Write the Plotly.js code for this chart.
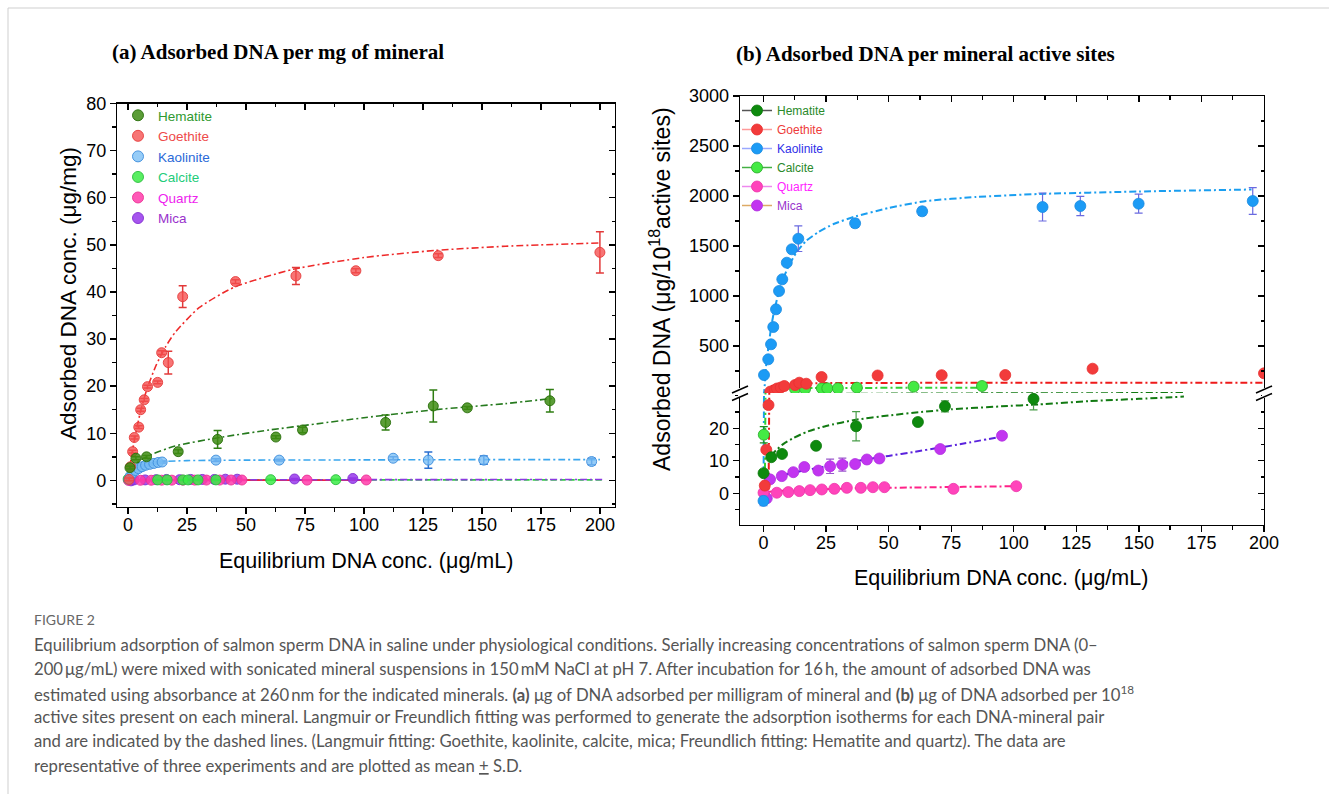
<!DOCTYPE html>
<html><head><meta charset="utf-8">
<script src="https://cdn.plot.ly/plotly-3.0.1.min.js"></script>
<style>html,body{margin:0;padding:0;background:#fff;} #chart{width:1329px;height:794px;}</style>
</head><body><div id="chart"></div>
<script>
// ---------------- Panel (a): adsorbed DNA per mg of mineral ----------------
const seriesNames = ['Hematite', 'Goethite', 'Kaolinite', 'Calcite', 'Quartz', 'Mica'];
const xTicksA = [0, 25, 50, 75, 100, 125, 150, 175, 200];
const yTicksA = [0, 10, 20, 30, 40, 50, 60, 70, 80];

const aHemX = [0.85, 3.4, 7.9, 21.3, 38.0, 62.7, 74.0, 109.2, 129.4, 143.8, 178.8];
const aHemY = [2.7, 4.7, 5.0, 6.1, 8.7, 9.2, 10.7, 12.3, 15.8, 15.4, 16.9];
const aHemE = [0.3, 0.3, 0.3, 0.4, 1.9, 0.3, 0.6, 1.6, 3.4, 0.3, 2.4];

const aGoeX = [0.5, 1.1, 2.0, 2.7, 4.6, 5.4, 6.9, 8.3, 12.6, 14.3, 17.1, 23.2, 45.6, 71.2, 96.6, 131.5, 200.0];
const aGoeY = [0.2, 2.9, 6.1, 9.1, 11.3, 15.0, 17.1, 19.9, 20.8, 27.1, 25.0, 39.0, 42.2, 43.4, 44.5, 47.7, 48.4];
const aGoeE = [0.3, 0.3, 0.3, 0.3, 0.3, 0.3, 0.3, 0.3, 0.3, 0.4, 2.4, 2.3, 0.4, 1.8, 0.4, 0.4, 4.4];

const aKaoX = [0.4, 1.0, 2.0, 3.2, 4.5, 6.0, 7.5, 9.2, 11.0, 12.8, 14.5, 37.3, 64.1, 112.4, 127.3, 150.8, 196.5];
const aKaoY = [0.2, 0.9, 1.6, 2.1, 2.5, 2.9, 3.2, 3.4, 3.6, 3.8, 3.9, 4.3, 4.3, 4.7, 4.3, 4.3, 4.0];
const aKaoE = [0.2, 0.2, 0.2, 0.2, 0.2, 0.2, 0.2, 0.2, 0.2, 0.2, 0.2, 0.3, 0.2, 0.3, 1.7, 0.9, 0.7];

const aCalX = [0.1, 12.6, 16.6, 23.3, 25.5, 29.7, 37.3, 60.5, 88.1];
const aCalY = [0.3, 0.1, 0.1, 0.1, 0.1, 0.1, 0.1, 0.15, 0.15];
const aCalE = [0.2, 0.1, 0.1, 0.1, 0.1, 0.1, 0.1, 0.1, 0.1];

const aQuaX = [0.2, 5.3, 9.9, 14.3, 18.6, 23.3, 28.3, 33.3, 38.9, 43.7, 48.3, 75.9, 101.0];
const aQuaY = [0.0, 0.02, 0.03, 0.04, 0.05, 0.05, 0.06, 0.07, 0.07, 0.08, 0.08, 0.06, 0.09];
const aQuaE = [0.1, 0.1, 0.1, 0.1, 0.1, 0.1, 0.1, 0.1, 0.1, 0.1, 0.1, 0.1, 0.1];

const aMicX = [1.3, 2.6, 7.3, 11.9, 16.3, 21.9, 26.6, 31.5, 36.6, 41.3, 46.3, 70.6, 95.3];
const aMicY = [-0.1, 0.1, 0.1, 0.15, 0.2, 0.15, 0.2, 0.2, 0.2, 0.25, 0.25, 0.3, 0.4];
const aMicE = [0.1, 0.1, 0.1, 0.1, 0.1, 0.1, 0.1, 0.1, 0.1, 0.1, 0.1, 0.1, 0.1];

// fitted isotherms
const aGoeFitX = [0.5, 2, 5, 8, 12, 16, 20, 30, 45, 70, 100, 130, 160, 200];
const aGoeFitY = [1.8, 6.6, 13.9, 19.3, 24.5, 28.4, 31.4, 36.6, 41.0, 44.8, 47.3, 48.8, 49.7, 50.4];
const aHemFitX = [1, 3, 6, 10, 20, 40, 60, 80, 100, 130, 160, 180];
const aHemFitY = [2.2, 3.4, 4.5, 5.5, 7.3, 9.2, 10.7, 12.0, 13.3, 15.0, 16.3, 17.4];
const aKaoFitX = [0.5, 2, 4, 7, 10, 15, 25, 50, 100, 150, 200];
const aKaoFitY = [0.6, 1.8, 2.7, 3.3, 3.7, 4.0, 4.2, 4.3, 4.35, 4.4, 4.4];
const aCalFitX = [0, 50, 100, 150, 202];
const aCalFitY = [0.1, 0.1, 0.1, 0.1, 0.1];
const aQuaFitX = [0.5, 10, 25, 50, 75, 101];
const aQuaFitY = [0.02, 0.03, 0.04, 0.05, 0.05, 0.06];
const aMicFitX = [1, 25, 50, 100, 150, 202];
const aMicFitY = [0.05, 0.1, 0.12, 0.15, 0.17, 0.19];

// ---------------- Panel (b): adsorbed DNA per 10^18 active sites ----------------
const xTicksB = [0, 25, 50, 75, 100, 125, 150, 175, 200];
const yTicksBLow = [0, 10, 20];
const yTicksBHigh = [500, 1000, 1500, 2000, 2500, 3000];

const bHemX = [0.0, 3.1, 7.4, 21.0, 37.0, 61.7, 72.5, 107.9];
const bHemY = [6.2, 11.1, 12.1, 14.6, 20.6, 21.9, 26.7, 29.0];
const bHemE = [0.4, 0.3, 0.3, 0.3, 4.5, 0.3, 1.7, 3.4];

const bGoeX = [0.5, 1.1, 2.0, 2.7, 4.6, 5.4, 6.9, 8.3, 12.6, 14.3, 17.1, 23.2, 45.6, 71.2, 96.6, 131.5, 200.0];
const bGoeY = [2.4, 13.4, 27.1, 44, 60, 75, 85, 100, 110, 133, 123, 190, 205, 208, 210, 273, 227];
const bGoeE = [0.3, 0.3, 0.3, 2, 2, 2, 2, 2, 2, 2, 2, 2, 2, 2, 2, 2, 2];

const bKaoX = [0.0, 0.2, 1.9, 3.0, 3.9, 5.0, 6.2, 7.5, 9.3, 11.3, 13.9, 36.6, 63.4, 111.5, 126.6, 149.9, 195.5];
const bKaoY = [-2.3, 210, 367, 517, 690, 867, 1050, 1167, 1333, 1467, 1573, 1727, 1847, 1890, 1900, 1923, 1950];
const bKaoE = [1.5, 15, 15, 15, 15, 15, 15, 15, 20, 30, 128, 40, 40, 140, 97, 95, 133];

const bCalX = [0.1, 12.6, 16.6, 23.3, 25.5, 29.7, 37.3, 60.0, 87.3];
const bCalY = [18.0, 70, 70, 77, 77, 77, 83, 93, 100];
const bCalE = [2.5, 3, 3, 3, 3, 3, 3, 3, 3];

const bQuaX = [0.0, 5.3, 9.9, 14.3, 18.6, 23.3, 28.3, 33.3, 38.9, 43.7, 48.3, 75.9, 101.0];
const bQuaY = [0.2, 0.2, 0.4, 0.7, 1.0, 1.2, 1.4, 1.7, 1.7, 1.9, 1.9, 1.4, 2.2];
const bQuaE = [0.3, 0.3, 0.3, 0.3, 0.3, 0.3, 0.3, 0.3, 0.3, 0.3, 0.3, 0.3, 0.3];

const bMicX = [1.3, 2.6, 7.3, 11.9, 16.3, 21.9, 26.6, 31.5, 36.6, 41.3, 46.3, 70.6, 95.3];
const bMicY = [-1.5, 4.3, 5.3, 6.5, 8.1, 7.0, 8.3, 8.8, 9.0, 10.4, 10.7, 13.6, 17.7];
const bMicE = [0.3, 0.3, 0.3, 0.3, 0.3, 0.3, 2.2, 2.0, 0.3, 0.3, 0.3, 0.3, 0.3];

const bHemFitX = [3, 5, 8, 12, 17, 25, 37, 50, 62, 75, 95, 110, 130, 150, 168];
const bHemFitY = [11.5, 13.2, 15.2, 17.0, 18.8, 20.7, 22.6, 23.9, 24.9, 25.8, 26.7, 27.3, 28.3, 29.0, 29.7];
const bGoeFitX = [2.0, 2.3, 2.6, 3, 4, 6, 10, 20, 50, 100, 200];
const bGoeFitY = [-2, 31, 70, 95, 110, 118, 124, 128, 131, 132, 133];
const bKaoFitX = [0, 0.3, 1, 2, 3, 4, 6, 8, 10, 13, 17, 22, 28, 36, 50, 65, 85, 110, 150, 195];
const bKaoFitY = [0, 50, 290, 500, 680, 820, 1030, 1180, 1300, 1430, 1550, 1640, 1720, 1790, 1880, 1950, 1990, 2020, 2045, 2065];
const bCalFitX = [0.5, 0.8, 1.2, 2, 4, 10, 20, 40, 60, 87];
const bCalFitY = [-2, 31, 50, 65, 75, 78, 80, 81, 82, 83];
const bQuaFitX = [0.5, 2, 5, 10, 20, 40, 60, 80, 101];
const bQuaFitY = [0.3, 0.5, 0.7, 0.9, 1.2, 1.6, 1.8, 2.0, 2.2];
const bMicFitX = [2, 10, 20, 30, 40, 50, 60, 70, 80, 95];
const bMicFitY = [3.8, 6.0, 7.6, 9.0, 10.3, 11.5, 12.7, 14.0, 15.3, 17.4];

// ---------------- helpers / styles ----------------
const W = 1329, H = 794;
const fx = p => p / W;
const fy = p => 1 - p / H;
const SANS = 'Liberation Sans, Arial, sans-serif';
const SERIF = 'Liberation Serif, Times New Roman, serif';
const DASHDOT = '7px,3px,2px,3px';
const BREAK = 31;

const styleA = {
  Hematite:  {fill: 'rgba(62,140,20,0.85)',  edge: 'rgba(40,110,10,0.9)',  err: '#2f7d12', fit: '#267a1e', dash: DASHDOT, text: '#2f9a2f'},
  Goethite:  {fill: 'rgba(245,78,78,0.78)',  edge: 'rgba(230,60,60,0.9)',  err: '#e23a3a', fit: '#ee2a2a', dash: DASHDOT, text: '#ee4a4a'},
  Kaolinite: {fill: 'rgba(120,190,245,0.78)', edge: 'rgba(60,140,220,0.9)', err: '#2a6fd0', fit: '#3aa6ee', dash: DASHDOT, text: '#2a6ad8'},
  Calcite:   {fill: 'rgba(60,235,70,0.85)',  edge: 'rgba(40,190,60,0.9)',  err: '#22aa44', fit: '#33cc44', dash: '6px,3px', text: '#22cc7a'},
  Quartz:    {fill: 'rgba(255,60,170,0.85)', edge: 'rgba(235,50,150,0.9)', err: '#e23396', fit: '#ee2244', dash: 'solid', text: '#ee22ee'},
  Mica:      {fill: 'rgba(150,55,235,0.85)', edge: 'rgba(130,45,210,0.9)', err: '#8833cc', fit: '#8a3ae0', dash: DASHDOT, text: '#9932cc'}
};
const styleB = {
  Hematite:  {fill: '#0e8a0e', edge: '#0b780b', err: '#4a9e4a', fit: '#127a12', leg: '#555555', text: '#2a8a2a'},
  Goethite:  {fill: '#f23b3b', edge: '#e83030', err: '#ff6a6a', fit: '#ee1a1a', leg: '#ff9a9a', text: '#ee3a3a'},
  Kaolinite: {fill: '#1c9bf5', edge: '#1a8ae0', err: '#6a6ae0', fit: '#1a9ef0', leg: '#9aa8ff', text: '#3030e8'},
  Calcite:   {fill: '#44ea44', edge: '#2aa82a', err: '#1f8f1f', fit: '#33d033', leg: '#44b044', text: '#2a8a2a'},
  Quartz:    {fill: '#ff44bb', edge: '#ee33aa', err: '#cc2288', fit: '#ff2288', leg: '#ee88ee', text: '#ff22ff'},
  Mica:      {fill: '#c235f0', edge: '#b02ee0', err: '#9955cc', fit: '#5a22dd', leg: '#ddaa66', text: '#9933cc'}
};

const dataA = {
  Hematite:  [aHemX, aHemY, aHemE, aHemFitX, aHemFitY],
  Goethite:  [aGoeX, aGoeY, aGoeE, aGoeFitX, aGoeFitY],
  Kaolinite: [aKaoX, aKaoY, aKaoE, aKaoFitX, aKaoFitY],
  Calcite:   [aCalX, aCalY, aCalE, aCalFitX, aCalFitY],
  Quartz:    [aQuaX, aQuaY, aQuaE, aQuaFitX, aQuaFitY],
  Mica:      [aMicX, aMicY, aMicE, aMicFitX, aMicFitY]
};
const dataB = {
  Hematite:  [bHemX, bHemY, bHemE, bHemFitX, bHemFitY],
  Goethite:  [bGoeX, bGoeY, bGoeE, bGoeFitX, bGoeFitY],
  Kaolinite: [bKaoX, bKaoY, bKaoE, bKaoFitX, bKaoFitY],
  Calcite:   [bCalX, bCalY, bCalE, bCalFitX, bCalFitY],
  Quartz:    [bQuaX, bQuaY, bQuaE, bQuaFitX, bQuaFitY],
  Mica:      [bMicX, bMicY, bMicE, bMicFitX, bMicFitY]
};

const traces = [];
// panel (a) fit lines
seriesNames.forEach(n => {
  const [ , , , fxv, fyv] = dataA[n];
  const s = styleA[n];
  traces.push({x: fxv, y: fyv, xaxis: 'x', yaxis: 'y', mode: 'lines', line: {color: s.fit, width: 1.6, dash: s.dash, shape: 'spline', smoothing: 0.6},
               showlegend: false, hoverinfo: 'skip'});
});
// panel (a) points (drawn in reverse so Hematite is on top)
seriesNames.slice().reverse().forEach(n => {
  const [xv, yv, ev] = dataA[n];
  const s = styleA[n];
  traces.push({x: xv, y: yv, xaxis: 'x', yaxis: 'y', mode: 'markers', name: n,
               marker: {size: 10, color: s.fill, line: {color: s.edge, width: 1}},
               error_y: {type: 'data', array: ev, visible: true, color: s.err, thickness: 1.5, width: 4},
               showlegend: false});
});
// legend (a) entries
seriesNames.forEach(n => {
  const s = styleA[n];
  traces.push({x: [null], y: [null], xaxis: 'x', yaxis: 'y', mode: 'markers', name: '<span style="color:' + s.text + '">' + n + '</span>',
               marker: {size: 11, color: s.fill, line: {color: s.edge, width: 1}}, showlegend: true, legend: 'legend', hoverinfo: 'skip'});
});

function pick(xv, yv, ev, keep) {
  const o = {x: [], y: [], e: []};
  yv.forEach((v, i) => { if (keep(v)) { o.x.push(xv[i]); o.y.push(v); o.e.push(ev[i]); } });
  return o;
}
// panel (b) fits on both segments of the broken axis
seriesNames.forEach(n => {
  const [ , , , fxv, fyv] = dataB[n];
  const s = styleB[n];
  ['y2', 'y4'].forEach(ya => {
    traces.push({x: fxv, y: fyv, xaxis: 'x2', yaxis: ya, mode: 'lines', line: {color: s.fit, width: 2, dash: DASHDOT, shape: 'spline', smoothing: 0.5},
                 showlegend: false, hoverinfo: 'skip'});
  });
});
// panel (b) points split across the broken axis
seriesNames.slice().reverse().forEach(n => {
  const [xv, yv, ev] = dataB[n];
  const s = styleB[n];
  const lo = pick(xv, yv, ev, v => v < BREAK);
  const hi = pick(xv, yv, ev, v => v >= BREAK);
  [[lo, 'y2'], [hi, 'y4']].forEach(([d, ya]) => {
    if (!d.x.length) return;
    traces.push({x: d.x, y: d.y, xaxis: 'x2', yaxis: ya, mode: 'markers', name: n,
                 marker: {size: 11, color: s.fill, line: {color: s.edge, width: 0.8}},
                 error_y: {type: 'data', array: d.e, visible: true, color: s.err, thickness: 1.2, width: 4},
                 showlegend: false});
  });
});
// legend (b) entries
seriesNames.forEach(n => {
  const s = styleB[n];
  traces.push({x: [null], y: [null], xaxis: 'x2', yaxis: 'y2', mode: 'lines+markers', name: '<span style="color:' + s.text + '">' + n + '</span>',
               line: {color: s.leg, width: 1.5}, marker: {size: 11, color: s.fill, line: {color: s.edge, width: 0.8}},
               showlegend: true, legend: 'legend2', hoverinfo: 'skip'});
});
// anchors for mirrored (inside-tick) axes
[['x3', 'y'], ['x', 'y3'], ['x4', 'y4'], ['x2', 'y5'], ['x2', 'y6']].forEach(([xa, ya]) => {
  traces.push({x: [null], y: [null], xaxis: xa, yaxis: ya, mode: 'markers', showlegend: false, hoverinfo: 'skip'});
});

const tickFont = {family: SANS, size: 18, color: '#000'};
const baseAx = {showgrid: false, zeroline: false, showline: true, linecolor: '#000', linewidth: 1.4,
                ticks: 'outside', ticklen: 6, tickwidth: 1.4, tickcolor: '#000', tickfont: tickFont, type: 'linear', fixedrange: true};
function ax(extra) { return Object.assign({}, baseAx, extra); }
function minor(dt, dir) { return {dtick: dt, tick0: 0, ticks: dir, ticklen: 3.5, tickwidth: 1.4, tickcolor: '#000'}; }

const domXA = [fx(117.3), fx(615)];
const domYA = [fy(507), fy(103.5)];
const domXB = [fx(740), fx(1264)];
const domYBLow = [fy(525), fy(393)];
const domYBHigh = [fy(393), fy(96)];
const rangeXA = [-4.5, 206.4];
const rangeYA = [-5.65, 80];
const rangeXB = [-9.4, 200];
const rangeYBLow = [-9.7, 30.8];
const rangeYBHigh = [30, 3000];

const layout = {
  width: W, height: H, margin: {l: 0, r: 0, t: 0, b: 0},
  paper_bgcolor: '#fff', plot_bgcolor: 'rgba(0,0,0,0)',
  font: {family: SANS, color: '#000'},
  xaxis:  ax({domain: domXA, anchor: 'y', range: rangeXA, tickvals: xTicksA, ticklabelstandoff: -5, minor: minor(12.5, 'outside')}),
  yaxis:  ax({domain: domYA, anchor: 'x', range: rangeYA, tickvals: yTicksA, minor: minor(5, 'outside')}),
  xaxis3: ax({overlaying: 'x', anchor: 'y', side: 'top', range: rangeXA, tickvals: xTicksA, ticks: 'inside', showticklabels: false, minor: minor(12.5, 'inside')}),
  yaxis3: ax({overlaying: 'y', anchor: 'x', side: 'right', range: rangeYA, tickvals: yTicksA, ticks: 'inside', showticklabels: false, minor: minor(5, 'inside')}),
  xaxis2: ax({domain: domXB, anchor: 'y2', range: rangeXB, tickvals: xTicksB, ticklabelstandoff: -5, minor: minor(12.5, 'outside')}),
  yaxis2: ax({domain: domYBLow, anchor: 'x2', range: rangeYBLow, tickvals: yTicksBLow, minor: minor(5, 'outside')}),
  yaxis4: ax({domain: domYBHigh, anchor: 'x2', range: rangeYBHigh, tickvals: yTicksBHigh, minor: minor(250, 'outside')}),
  xaxis4: ax({overlaying: 'x2', anchor: 'y4', side: 'top', range: rangeXB, tickvals: xTicksB, ticks: 'inside', showticklabels: false, minor: minor(12.5, 'inside')}),
  yaxis5: ax({overlaying: 'y2', anchor: 'x2', side: 'right', range: rangeYBLow, tickvals: yTicksBLow, ticks: 'inside', showticklabels: false, minor: minor(5, 'inside')}),
  yaxis6: ax({overlaying: 'y4', anchor: 'x2', side: 'right', range: rangeYBHigh, tickvals: yTicksBHigh, ticks: 'inside', showticklabels: false, minor: minor(250, 'inside')}),
  legend: {x: fx(118), y: fy(100), xanchor: 'left', yanchor: 'top', bgcolor: 'rgba(0,0,0,0)', borderwidth: 0,
           font: {family: SANS, size: 13.5}, tracegroupgap: 0, itemclick: false},
  legend2: {x: fx(737), y: fy(96), xanchor: 'left', yanchor: 'top', bgcolor: 'rgba(0,0,0,0)', borderwidth: 0,
            font: {family: SANS, size: 12}, tracegroupgap: 0, itemclick: false},
  shapes: [],
  annotations: []
};

// frame of the figure card
layout.shapes.push({type: 'path', xref: 'paper', yref: 'paper', path: `M ${fx(8)} ${fy(794)} L ${fx(8)} ${fy(8)} L ${fx(1329)} ${fy(8)}`,
                    line: {color: '#cfcfcf', width: 1}});
// axis-break marks on the broken y axis of panel (b)
[740, 1264].forEach(xp => {
  layout.shapes.push({type: 'rect', xref: 'paper', yref: 'paper', x0: fx(xp - 2), x1: fx(xp + 2), y0: fy(398), y1: fy(388),
                      fillcolor: '#fff', line: {width: 0}, layer: 'above'});
  [389.5, 397].forEach(yc => {
    layout.shapes.push({type: 'line', xref: 'paper', yref: 'paper', x0: fx(xp - 8), y0: fy(yc + 3.5), x1: fx(xp + 8), y1: fy(yc - 3.5),
                        line: {color: '#000', width: 1.6}, layer: 'above'});
  });
});

const A = layout.annotations;
function note(text, x, y, opts) {
  A.push(Object.assign({text: text, xref: 'paper', yref: 'paper', x: fx(x), y: fy(y), showarrow: false,
                        xanchor: 'center', yanchor: 'middle'}, opts || {}));
}
note('<b>(a) Adsorbed DNA per mg of mineral</b>', 278, 52, {font: {family: SERIF, size: 21, color: '#000'}});
note('<b>(b) Adsorbed DNA per mineral active sites</b>', 925, 54, {font: {family: SERIF, size: 21, color: '#000'}});
note('Equilibrium DNA conc. (μg/mL)', 366, 561, {font: {family: SANS, size: 21.5, color: '#000'}});
note('Adsorbed DNA conc. (μg/mg)', 68, 294, {textangle: -90, font: {family: SANS, size: 22.5, color: '#000'}});
note('Equilibrium DNA conc. (μg/mL)', 1001, 578, {font: {family: SANS, size: 21.5, color: '#000'}});
note('Adsorbed DNA (μg/10<sup>18</sup>active sites)', 660, 289, {textangle: -90, font: {family: SANS, size: 23, color: '#000'}});

const CAP = {family: 'Lato, Noto Sans, sans-serif', size: 16.7, color: '#555'};
note('FIGURE 2', 32, 619, {xanchor: 'left', font: {family: 'Lato, Noto Sans, sans-serif', size: 14, color: '#666'}});
const captionLines = [
  'Equilibrium adsorption of salmon sperm DNA in saline under physiological conditions. Serially increasing concentrations of salmon sperm DNA (0–',
  '200\u2009μg/mL) were mixed with sonicated mineral suspensions in 150\u2009mM NaCl at pH 7. After incubation for 16\u2009h, the amount of adsorbed DNA was',
  'estimated using absorbance at 260\u2009nm for the indicated minerals. <b>(a)</b> μg of DNA adsorbed per milligram of mineral and <b>(b)</b> μg of DNA adsorbed per 10<sup>18</sup>',
  'active sites present on each mineral. Langmuir or Freundlich fitting was performed to generate the adsorption isotherms for each DNA-mineral pair',
  'and are indicated by the dashed lines. (Langmuir fitting: Goethite, kaolinite, calcite, mica; Freundlich fitting: Hematite and quartz). The data are',
  'representative of three experiments and are plotted as mean <u>+</u> S.D.'
];
const captionY = [645, 669, 693, 717, 741, 766];
captionLines.forEach((t, i) => note(t, 32, captionY[i], {xanchor: 'left', font: CAP}));

Plotly.newPlot('chart', traces, layout, {staticPlot: true, displayModeBar: false});
</script></body></html>
